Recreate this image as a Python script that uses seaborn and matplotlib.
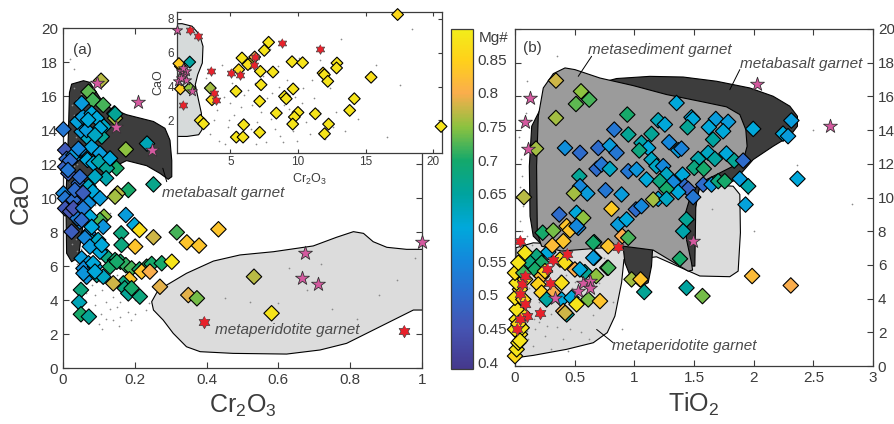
import numpy as np
import matplotlib
matplotlib.use('Agg')
import matplotlib.pyplot as plt
from matplotlib.colors import LinearSegmentedColormap, Normalize
from matplotlib.patches import Polygon
from matplotlib.ticker import FormatStrFormatter
import seaborn as sns

# ---------------- data ----------------
# panel (a): Cr2O3 vs CaO, diamonds (Cr2O3, CaO, Mg#)
a_diamonds = [
    (0.106, 16.9, 0.77), (0.071, 16.25, 0.73), (0.083, 15.76, 0.72), (0.112, 15.47, 0.72),
    (0.143, 14.98, 0.69), (0.145, 14.7, 0.76), (0.175, 12.86, 0.75), (0.234, 13.2, 0.63),
    (0.252, 10.8, 0.67), (0.149, 11.75, 0.70), (0.182, 10.47, 0.70), (0.152, 10.27, 0.77),
    (0.145, 10.08, 0.76), (0.175, 9.0, 0.58), (0.199, 8.41, 0.60), (0.213, 8.12, 0.87),
    (0.252, 7.69, 0.78), (0.317, 7.98, 0.72), (0.345, 7.39, 0.83), (0.379, 7.2, 0.83),
    (0.433, 8.16, 0.83), (0.201, 7.14, 0.83), (0.162, 7.92, 0.68), (0.163, 7.24, 0.68),
    (0.114, 8.9, 0.75), (0.103, 8.7, 0.72), (0.112, 8.31, 0.57), (0.122, 6.55, 0.68),
    (0.145, 6.35, 0.69), (0.16, 6.25, 0.70), (0.175, 6.05, 0.71), (0.191, 5.86, 0.72),
    (0.213, 5.8, 0.70), (0.233, 5.96, 0.71), (0.247, 6.12, 0.70), (0.275, 6.16, 0.70),
    (0.303, 6.25, 0.88), (0.219, 5.67, 0.83), (0.242, 5.67, 0.80), (0.185, 5.22, 0.83),
    (0.168, 4.98, 0.68), (0.14, 4.98, 0.78), (0.172, 4.69, 0.68), (0.182, 4.39, 0.66),
    (0.191, 4.69, 0.70), (0.214, 4.2, 0.68), (0.27, 4.78, 0.79), (0.349, 4.29, 0.79),
    (0.373, 4.1, 0.74), (0.532, 5.37, 0.77), (0.581, 3.22, 0.88), (0.05, 4.59, 0.68),
    (0.045, 3.86, 0.63), (0.05, 3.16, 0.70), (0.072, 3.02, 0.66),
    (0.001, 14.04, 0.52), (0.006, 12.82, 0.46), (0.01, 12.3, 0.50), (0.006, 11.84, 0.48),
    (0.015, 11.45, 0.47), (0.001, 10.27, 0.55), (0.006, 9.98, 0.52), (0.006, 9.39, 0.46),
    (0.02, 9.2, 0.45), (0.024, 8.02, 0.47), (0.047, 9.98, 0.45), (0.052, 10.47, 0.48),
    (0.043, 10.86, 0.50), (0.033, 12.43, 0.57), (0.047, 12.82, 0.57), (0.052, 13.9, 0.58),
    (0.04, 14.49, 0.59), (0.055, 14.78, 0.58), (0.052, 15.57, 0.58), (0.08, 14.98, 0.60),
    (0.094, 14.69, 0.60), (0.114, 14.2, 0.62), (0.108, 13.61, 0.66), (0.071, 13.5, 0.62),
    (0.08, 13.0, 0.59), (0.103, 12.63, 0.58), (0.068, 12.24, 0.60), (0.085, 12.04, 0.60),
    (0.1, 12.14, 0.64), (0.122, 11.75, 0.66), (0.131, 12.33, 0.60), (0.12, 11.16, 0.64),
    (0.089, 11.25, 0.62), (0.071, 10.67, 0.62), (0.083, 10.37, 0.60), (0.103, 9.98, 0.58),
    (0.071, 9.69, 0.56), (0.057, 9.2, 0.85), (0.047, 8.61, 0.55), (0.075, 8.9, 0.60),
    (0.071, 7.92, 0.55), (0.08, 7.43, 0.62), (0.098, 7.53, 0.62), (0.103, 6.84, 0.60),
    (0.052, 6.45, 0.58), (0.071, 6.16, 0.58), (0.057, 5.86, 0.56), (0.089, 5.96, 0.59),
    (0.066, 5.37, 0.57), (0.094, 5.47, 0.66), (0.112, 5.37, 0.62), (0.029, 12.53, 0.58),
    (0.029, 9.88, 0.50), (0.04, 8.8, 0.53), (0.145, 14.94, 0.66), (0.103, 14.1, 0.60),
    (0.066, 14.0, 0.58), (0.07, 14.6, 0.60), (0.089, 13.7, 0.62), (0.043, 12.9, 0.55),
    (0.0195, 12.2, 0.50), (0.014, 11.65, 0.52), (0.047, 11.25, 0.50), (0.033, 10.47, 0.50),
    (0.056, 10.3, 0.47), (0.029, 9.4, 0.45), (0.056, 9.4, 0.53), (0.052, 8.7, 0.50),
    (0.061, 7.65, 0.55), (0.08, 8.3, 0.60), (0.075, 7.14, 0.58), (0.108, 7.24, 0.60),
    (0.084, 6.16, 0.60), (0.057, 5.57, 0.57), (0.089, 5.67, 0.60), (0.131, 5.96, 0.70),
    (0.15, 6.25, 0.70),
]
a_red_stars = [(0.393, 2.73), (0.951, 2.18)]
a_pink_stars = [(0.21, 15.67), (0.149, 14.2), (0.247, 12.82), (0.094, 16.75),
                (0.674, 6.75), (0.665, 5.27), (0.711, 4.92), (0.999, 7.43)]
a_dots = [
    (0.03, 16.5), (0.05, 15.2), (0.07, 14.1), (0.04, 13.3), (0.06, 12.6), (0.08, 11.8),
    (0.02, 10.9), (0.05, 10.2), (0.09, 9.6), (0.03, 8.8), (0.06, 8.1), (0.1, 7.4),
    (0.04, 6.9), (0.07, 6.2), (0.12, 5.8), (0.05, 5.3), (0.08, 4.9), (0.11, 4.6),
    (0.14, 4.2), (0.06, 4.0), (0.09, 3.7), (0.13, 3.5), (0.16, 3.9), (0.18, 3.3),
    (0.08, 3.1), (0.12, 2.9), (0.15, 3.6), (0.2, 3.2), (0.22, 4.4), (0.1, 2.6),
    (0.14, 2.8), (0.17, 5.1), (0.24, 3.8), (0.07, 7.7), (0.11, 6.6), (0.19, 4.7),
    (0.05, 9.3), (0.09, 12.9), (0.13, 9.1), (0.04, 15.8), (0.45, 4.1), (0.52, 3.9),
    (0.6, 3.8), (0.68, 4.6), (0.75, 3.5), (0.82, 2.9), (0.88, 4.3), (0.55, 2.4),
    (0.63, 5.9), (0.72, 6.1), (0.93, 5.2), (0.98, 6.5), (0.03, 17.6), (0.02, 18.2),
    (0.035, 11.4), (0.025, 7.3), (0.065, 4.4), (0.105, 3.2), (0.155, 2.5), (0.09, 8.6),
    (0.03, 14.9), (0.035, 13.6), (0.04, 12.0), (0.045, 11.1), (0.035, 10.0), (0.04, 9.0),
    (0.045, 8.3), (0.035, 7.6), (0.05, 7.0), (0.06, 6.7), (0.04, 6.1), (0.06, 5.0),
    (0.09, 4.3), (0.12, 3.9), (0.16, 3.0), (0.19, 2.8), (0.11, 2.3), (0.07, 2.8),
    (0.13, 4.8), (0.15, 5.5), (0.2, 4.0), (0.23, 3.4), (0.17, 4.4), (0.1, 5.1),
    (0.025, 15.5), (0.05, 16.1), (0.02, 13.0), (0.055, 12.2), (0.03, 11.9), (0.065, 10.9),
]

# inset: Cr2O3 vs CaO for high-Cr2O3 garnets
in_diamonds = [
    (17.36, 8.26, 0.86), (20.57, 1.64, 0.88), (7.83, 6.62, 0.88), (7.51, 6.14, 0.88),
    (5.86, 5.69, 0.88), (6.48, 5.39, 0.86), (6.3, 5.3, 0.87), (6.8, 5.75, 0.80),
    (5.62, 5.0, 0.86), (7.22, 4.9, 0.88), (8.15, 4.86, 0.88), (9.56, 5.47, 0.88),
    (10.34, 5.41, 0.88), (11.85, 4.80, 0.86), (11.95, 4.7, 0.88), (12.2, 4.31, 0.88),
    (12.88, 5.39, 0.88), (12.85, 5.1, 0.88), (15.4, 4.55, 0.87), (5.42, 3.72, 0.88),
    (7.27, 4.11, 0.88), (9.64, 3.86, 0.88), (9.0, 3.42, 0.88), (9.13, 3.28, 0.88),
    (7.17, 3.13, 0.88), (14.16, 3.28, 0.88), (13.82, 2.59, 0.88), (8.4, 2.43, 0.88),
    (10.0, 2.47, 0.88), (9.73, 2.2, 0.88), (11.28, 2.39, 0.88), (9.61, 1.78, 0.88),
    (12.26, 1.78, 0.88), (5.99, 1.74, 0.88), (7.17, 1.29, 0.88), (5.44, 1.01, 0.88),
    (5.94, 1.01, 0.88), (11.96, 1.21, 0.88), (2.78, 2.0, 0.88), (3.02, 1.8, 0.88),
    (3.52, 3.91, 0.76), (3.64, 3.22, 0.86), (1.31, 5.2, 0.86), (1.2, 5.36, 0.84),
    (1.31, 3.86, 0.84), (2.0, 5.45, 0.65), (2.0, 3.91, 0.75),
]
in_red_stars = [(2.0, 7.37), (2.59, 7.01), (8.82, 6.58), (11.65, 6.22), (6.8, 5.75),
                (6.72, 5.30), (3.57, 4.90), (5.05, 4.80), (5.74, 4.70), (3.77, 3.62),
                (3.97, 3.22), (1.50, 2.91)]
in_pink_stars = [(1.06, 7.37), (1.33, 4.9), (1.58, 4.70), (1.70, 4.41), (1.1, 4.31),
                 (2.17, 3.72), (1.33, 4.51), (1.75, 4.9), (1.5, 5.1)]
in_dots = [
    (3.5, 1.2), (4.2, 0.8), (4.8, 1.6), (5.3, 2.3), (6.1, 0.9), (6.6, 2.9), (7.0, 1.9),
    (7.6, 0.7), (8.1, 3.6), (8.7, 1.1), (9.3, 2.7), (9.9, 0.8), (10.6, 1.9), (11.2, 3.3),
    (12.0, 0.9), (12.8, 2.5), (13.5, 1.4), (4.5, 3.4), (5.1, 4.2), (6.3, 3.8), (7.4, 4.6),
    (8.5, 5.2), (9.2, 4.4), (10.4, 3.9), (11.6, 5.6), (4.0, 2.6), (5.8, 2.8), (6.9, 0.6),
    (8.0, 2.1), (9.6, 1.4), (10.9, 1.2), (12.4, 3.9), (14.4, 2.1), (15.8, 5.3), (16.6, 1.0),
    (17.5, 4.1), (18.4, 7.4), (3.2, 4.5), (4.4, 5.3), (7.9, 6.2), (13.2, 6.8), (5.5, 1.3),
    (6.5, 1.5), (7.3, 2.5), (8.9, 0.7), (3.8, 2.0), (10.1, 5.7), (11.5, 2.6),
    (4.6, 0.6), (5.0, 3.0), (6.0, 3.5), (6.8, 4.2), (7.7, 3.3), (8.3, 1.5), (9.0, 2.9),
    (10.3, 3.0), (11.0, 4.4), (12.6, 1.6), (3.6, 3.0), (4.9, 2.0), (8.6, 4.0), (9.8, 3.4),
]

# panel (b): TiO2 vs CaO, diamonds (TiO2, CaO, Mg#)
b_diamonds = [
    (0.343, 16.94, 0.78), (0.553, 16.3, 0.75), (0.622, 15.81, 0.72), (0.511, 15.55, 0.73),
    (0.343, 14.72, 0.76), (0.176, 12.9, 0.76), (0.075, 10.02, 0.77),
    (1.354, 15.61, 0.60), (0.941, 14.92, 0.70), (1.479, 14.76, 0.60), (1.49, 14.66, 0.60),
    (1.2, 14.58, 0.63), (1.256, 14.33, 0.60), (1.446, 14.17, 0.66), (1.683, 14.66, 0.58),
    (1.786, 14.49, 0.58), (1.625, 14.17, 0.60), (1.744, 13.93, 0.60), (1.996, 14.07, 0.60),
    (2.316, 14.57, 0.58), (2.246, 13.79, 0.60), (2.288, 13.64, 0.58), (0.832, 14.03, 0.52),
    (0.95, 13.74, 0.66), (1.144, 13.77, 0.66), (1.66, 13.44, 0.65), (0.419, 12.94, 0.56),
    (0.698, 12.94, 0.50), (0.795, 13.08, 0.58), (0.545, 12.65, 0.50), (0.851, 12.65, 0.52),
    (1.06, 13.24, 0.64), (1.116, 12.94, 0.60), (1.041, 12.79, 0.68), (1.292, 13.28, 0.55),
    (1.368, 12.81, 0.58), (1.395, 12.9, 0.54), (1.535, 12.29, 0.64), (1.619, 12.65, 0.62),
    (1.675, 12.29, 0.65), (1.772, 12.61, 0.60), (1.837, 12.19, 0.66), (1.912, 12.19, 0.50),
    (0.684, 11.7, 0.50), (0.726, 11.96, 0.52), (0.795, 11.7, 0.62), (0.949, 11.56, 0.52),
    (1.019, 11.66, 0.57), (1.102, 11.07, 0.60), (1.144, 12.25, 0.62), (1.186, 11.86, 0.62),
    (1.242, 11.86, 0.55), (1.27, 11.36, 0.62), (1.214, 10.97, 0.68), (1.326, 10.91, 0.55),
    (1.404, 11.36, 0.60), (1.423, 10.67, 0.50), (1.451, 10.51, 0.48), (1.493, 10.02, 0.52),
    (1.368, 10.32, 0.60), (1.27, 10.51, 0.70), (1.2, 9.92, 0.60), (1.158, 9.88, 0.76),
    (1.27, 9.92, 0.62), (1.577, 10.77, 0.50), (1.647, 10.77, 0.57), (1.703, 10.97, 0.68),
    (1.758, 10.97, 0.70), (1.502, 11.76, 0.68), (1.582, 11.7, 0.70), (1.884, 11.11, 0.58),
    (1.954, 10.67, 0.64), (1.932, 9.58, 0.59), (2.367, 11.11, 0.60), (0.539, 11.27, 0.66),
    (0.545, 10.67, 0.55), (0.606, 10.24, 0.58), (0.494, 10.24, 0.76), (0.759, 10.43, 0.52),
    (0.893, 10.18, 0.58), (1.013, 9.29, 0.50), (1.06, 9.49, 0.55), (0.371, 8.99, 0.50),
    (0.516, 9.09, 0.60), (0.572, 8.79, 0.75), (0.53, 8.2, 0.55), (0.809, 9.33, 0.84),
    (0.865, 8.4, 0.58), (0.935, 8.7, 0.60), (1.437, 8.7, 0.66), (1.409, 8.0, 0.64),
    (0.899, 7.71, 0.80), (0.949, 7.61, 0.72), (0.232, 7.91, 0.70), (0.321, 8.04, 0.74),
    (0.433, 8.3, 0.83), (0.46, 8.06, 0.83), (0.405, 7.41, 0.83), (0.279, 6.76, 0.60),
    (0.313, 7.15, 0.82), (0.664, 7.35, 0.70), (0.781, 7.11, 0.83), (0.664, 6.42, 0.60),
    (0.773, 5.83, 0.72), (1.382, 6.36, 0.70), (0.977, 5.14, 0.76), (1.052, 5.14, 0.83),
    (1.083, 4.39, 0.66), (1.437, 4.64, 0.65), (1.571, 4.15, 0.74), (1.987, 5.34, 0.82),
    (2.311, 4.78, 0.80), (0.516, 8.3, 0.55),
    (0.181, 6.52, 0.68), (0.126, 6.13, 0.68), (0.223, 6.13, 0.70), (0.167, 5.73, 0.70),
    (0.377, 6.32, 0.87), (0.419, 6.13, 0.87), (0.502, 5.73, 0.80), (0.586, 5.57, 0.66),
    (0.544, 5.73, 0.60), (0.656, 6.42, 0.58), (0.782, 5.83, 0.72), (0.68, 5.34, 0.75),
    (0.223, 5.34, 0.82), (0.195, 4.84, 0.85), (0.223, 4.35, 0.85), (0.391, 4.94, 0.87),
    (0.321, 4.35, 0.80), (0.265, 3.95, 0.65), (0.391, 3.95, 0.60), (0.474, 4.05, 0.60),
    (0.516, 3.66, 0.88), (0.614, 3.95, 0.74), (0.712, 3.85, 0.83), (0.405, 3.26, 0.80),
    (0.433, 3.06, 0.65), (0.42, 3.15, 0.78), (0.251, 5.63, 0.86), (0.656, 7.31, 0.70),
    (0.0, 0.59, 0.86), (0.014, 0.99, 0.88), (0.028, 1.38, 0.88), (0.042, 1.88, 0.87),
    (0.0, 2.17, 0.88), (0.056, 2.27, 0.88), (0.014, 2.77, 0.88), (0.07, 3.06, 0.87),
    (0.014, 3.36, 0.88), (0.0, 4.05, 0.88), (0.07, 3.95, 0.85), (0.042, 4.55, 0.86),
    (0.014, 4.94, 0.88), (0.084, 5.14, 0.86), (0.0, 5.53, 0.87), (0.07, 5.53, 0.72),
    (0.028, 6.13, 0.88), (0.084, 6.72, 0.88), (0.042, 1.5, 0.88), (0.028, 2.5, 0.86),
]
b_red_stars = [(0.042, 7.41), (0.056, 4.84), (0.084, 5.34), (0.042, 4.25), (0.084, 3.66),
               (0.098, 2.96), (0.042, 2.77), (0.014, 2.17), (0.209, 3.16), (0.265, 5.77),
               (0.321, 6.28), (0.293, 4.94), (0.433, 6.62), (0.865, 7.07)]
b_pink_stars = [(0.572, 4.94), (0.628, 5.04), (0.628, 4.64), (0.53, 4.45), (0.335, 4.05),
                (1.493, 7.41), (0.126, 15.91), (0.084, 14.47), (0.112, 12.9),
                (2.029, 16.76), (2.637, 14.23)]
b_dots = [
    (0.02, 1.0), (0.05, 1.5), (0.1, 2.1), (0.15, 1.2), (0.2, 2.6), (0.25, 1.8), (0.3, 3.1),
    (0.35, 2.3), (0.4, 1.6), (0.45, 2.8), (0.5, 3.4), (0.55, 2.0), (0.6, 4.3), (0.65, 3.0),
    (0.12, 3.5), (0.18, 4.2), (0.22, 5.0), (0.28, 5.6), (0.33, 4.8), (0.38, 5.4), (0.48, 4.6),
    (0.52, 6.0), (0.58, 5.2), (0.7, 4.9), (0.75, 6.4), (0.82, 3.8), (0.08, 6.5), (0.14, 7.2),
    (0.26, 6.8), (0.04, 8.6), (0.06, 11.3), (0.1, 16.9), (0.03, 13.6), (0.07, 9.5),
    (0.3, 1.0), (0.44, 0.9), (0.62, 1.6), (0.9, 2.2), (1.4, 8.6), (1.65, 9.3), (2.5, 14.0),
    (2.36, 11.9), (2.0, 8.0), (2.82, 9.6), (1.95, 10.2), (0.35, 18.4), (1.0, 19.0), (0.09, 15.0),
    (0.2, 3.8), (0.42, 3.6), (0.36, 6.2), (0.16, 2.8), (0.24, 4.4), (0.54, 5.6),
    (0.11, 1.6), (0.17, 2.2), (0.23, 3.0), (0.27, 2.4), (0.32, 4.0), (0.37, 3.3), (0.46, 2.2),
    (0.5, 5.0), (0.56, 4.2), (0.62, 5.5), (0.66, 4.6), (0.12, 4.6), (0.19, 6.0), (0.3, 6.3),
    (0.43, 5.4), (0.08, 2.6), (0.06, 8.0), (0.1, 7.7), (0.04, 10.6), (0.05, 12.3),
]

# outlines of the garnet fields (x, CaO)
a_metabasalt = [
    (0.024, 16.7), (0.057, 16.9), (0.075, 16.8), (0.103, 15.9), (0.131, 15.3), (0.177, 14.9),
    (0.252, 14.5), (0.284, 14.1), (0.298, 13.4), (0.303, 12.2), (0.303, 11.25), (0.293, 11.1),
    (0.27, 11.45), (0.233, 11.9), (0.177, 12.2), (0.12, 11.6), (0.075, 10.7), (0.052, 7.9),
    (0.043, 6.5), (0.024, 6.25), (0.01, 6.75), (0.008, 9.9), (0.015, 13.8), (0.018, 16.2),
]
a_metaperidotite = [
    (0.247, 3.9), (0.261, 4.43), (0.289, 4.88), (0.344, 5.57), (0.419, 6.29), (0.493, 6.65),
    (0.586, 6.84), (0.697, 7.18), (0.762, 7.69), (0.809, 8.02), (0.837, 7.92), (0.864, 7.43),
    (0.902, 7.1), (0.957, 6.98), (1.013, 6.98), (1.013, 3.41), (0.976, 3.41), (0.92, 2.82),
    (0.846, 2.04), (0.79, 1.45), (0.716, 1.06), (0.623, 0.82), (0.474, 0.86), (0.382, 0.96),
    (0.344, 1.25), (0.307, 2.04), (0.279, 2.82), (0.252, 3.41),
]
in_metaperidotite = [
    (0.5, 7.7), (1.43, 7.72), (2.17, 7.57), (2.73, 7.07), (2.98, 6.38), (2.93, 5.39),
    (2.59, 4.7), (2.41, 4.11), (2.59, 3.42), (2.86, 2.43), (2.91, 1.45), (2.66, 1.15),
    (1.8, 1.05), (0.5, 1.05),
]
b_metaperidotite = [
    (0.008, 0.49), (0.008, 7.02), (0.153, 7.31), (0.433, 7.21), (0.907, 7.15), (1.186, 7.02),
    (1.437, 6.82), (1.515, 9.49), (1.543, 10.51), (1.661, 10.75), (1.828, 10.67),
    (1.884, 10.18), (1.889, 7.91), (1.87, 5.63), (1.8, 5.3), (1.549, 5.34), (1.186, 6.48),
    (0.991, 6.32), (0.913, 6.32), (0.893, 4.94), (0.837, 2.96), (0.773, 1.98), (0.656, 1.38),
    (0.433, 0.99), (0.153, 0.63),
]
b_metabasalt = [
    (1.047, 4.7), (1.116, 4.94), (1.144, 5.93), (1.153, 6.96), (1.409, 6.96), (1.46, 5.93),
    (1.507, 5.93), (1.515, 9.49), (1.543, 10.51), (1.661, 10.87), (1.828, 10.97),
    (1.898, 11.46), (1.996, 12.25), (2.163, 13.04), (2.303, 13.64), (2.367, 14.23),
    (2.367, 14.82), (2.303, 15.42), (2.163, 16.01), (1.968, 16.5), (1.689, 16.9),
    (1.409, 17.15), (1.13, 17.19), (0.851, 17.06), (0.712, 16.8), (0.433, 16.0), (0.209, 15.2),
    (0.14, 14.23), (0.12, 11.86), (0.126, 8.89), (0.153, 7.71), (0.237, 7.11), (0.907, 7.02),
    (0.921, 6.13), (0.977, 5.14),
]
b_metasediment = [
    (0.187, 7.91), (0.181, 11.86), (0.195, 14.82), (0.237, 16.5), (0.321, 17.35),
    (0.419, 17.69), (0.502, 17.59), (0.712, 17.09), (0.991, 16.64), (1.27, 16.11),
    (1.549, 15.71), (1.772, 15.38), (1.884, 14.92), (1.934, 14.03), (1.945, 13.04),
    (1.926, 12.55), (1.828, 11.86), (1.689, 11.36), (1.549, 10.87), (1.479, 10.28),
    (1.429, 9.09), (1.437, 7.51), (1.479, 6.13), (1.488, 5.69), (1.451, 5.63), (1.158, 6.88),
    (0.907, 7.11), (0.391, 6.82), (0.223, 7.11),
]

mg_ticks = [0.4, 0.45, 0.5, 0.55, 0.6, 0.65, 0.7, 0.75, 0.8, 0.85]

# ---------------- style ----------------
sns.set_style('ticks')
plt.rcParams['font.family'] = ['Liberation Sans', 'DejaVu Sans']
plt.rcParams['mathtext.default'] = 'regular'

# parula-like map, as printed in the figure
parula = LinearSegmentedColormap.from_list('parula', [
    (0.000, (0.27, 0.22, 0.55)), (0.119, (0.27, 0.33, 0.70)), (0.218, (0.18, 0.42, 0.80)),
    (0.317, (0.08, 0.53, 0.86)), (0.416, (0.00, 0.66, 0.86)), (0.515, (0.00, 0.64, 0.62)),
    (0.614, (0.08, 0.66, 0.42)), (0.713, (0.55, 0.76, 0.25)), (0.812, (0.98, 0.68, 0.30)),
    (0.911, (1.00, 0.82, 0.10)), (1.000, (0.95, 0.93, 0.10))])
norm = Normalize(0.39, 0.895)

ang = np.deg2rad(np.arange(12) * 30 + 90)
rad = np.where(np.arange(12) % 2 == 0, 1.0, 0.58)
hexagram = list(zip(rad * np.cos(ang), rad * np.sin(ang)))

ink = '#3c3c3c'
note = '#4a4a4a'


def style_axes(ax, fs=11):
    ax.tick_params(direction='in', top=True, right=True, length=4, width=0.8,
                   labelsize=fs, colors=ink)
    for s in ax.spines.values():
        s.set_color(ink)
        s.set_linewidth(0.9)


def field(ax, pts, color, z=1):
    ax.add_patch(Polygon(pts, closed=True, facecolor=color, edgecolor='black',
                         lw=0.8, joinstyle='round', zorder=z))


def points(ax, dia, red, pink, dots, s_dia=62, s_star=110, s_hex=80):
    dx, dy = zip(*dots)
    ax.scatter(dx, dy, s=1.5, c='#8a8a8a', lw=0, zorder=2)
    x, y, mg = zip(*dia)
    sns.scatterplot(x=list(x), y=list(y), hue=list(mg), palette=parula, hue_norm=norm,
                    marker='D', s=s_dia, edgecolor='black', linewidth=0.8,
                    legend=False, ax=ax, zorder=3, clip_on=False)
    rx, ry = zip(*red)
    ax.scatter(rx, ry, marker=hexagram, s=s_hex, c='#e8212b', edgecolors='#444',
               lw=0.5, zorder=4, clip_on=False)
    px, py = zip(*pink)
    ax.scatter(px, py, marker='*', s=s_star, c='#d4599f', edgecolors='#333',
               lw=0.6, zorder=4, clip_on=False)


fig = plt.figure(figsize=(8.95, 4.24), dpi=100)

# ---- panel (a)
ax1 = fig.add_axes([63 / 895, 56 / 424, 359 / 895, 340 / 424])
field(ax1, a_metabasalt, '#3d3d3d')
field(ax1, a_metaperidotite, '#dcdcdc')
points(ax1, a_diamonds, a_red_stars, a_pink_stars, a_dots)
ax1.set_xlim(0, 1)
ax1.set_ylim(0, 20)
ax1.set_xticks([0, 0.2, 0.4, 0.6, 0.8, 1])
ax1.set_yticks(range(0, 21, 2))
ax1.xaxis.set_major_formatter(FormatStrFormatter('%g'))
ax1.set_xlabel(r'Cr$_2$O$_3$', fontsize=18, color=ink, labelpad=4)
ax1.set_ylabel('CaO', fontsize=18, color=ink, labelpad=6)
style_axes(ax1)
ax1.text(0.029, 18.7, '(a)', fontsize=11, color=ink, va='center')
ax1.text(0.277, 10.27, 'metabasalt garnet', fontsize=11, style='italic', color=note,
         va='center', zorder=6)
ax1.plot([0.289, 0.278], [10.96, 11.75], color='black', lw=0.7, zorder=6)
ax1.text(0.423, 2.24, 'metaperidotite garnet', fontsize=11, style='italic', color=note,
         va='center', zorder=6)

# ---- inset
axi = fig.add_axes([177 / 895, 271 / 424, 265 / 895, 141 / 424])
axi.set_facecolor('white')
field(axi, in_metaperidotite, '#d6dada')
points(axi, in_diamonds, in_red_stars, in_pink_stars, in_dots, s_dia=36, s_star=60, s_hex=48)
axi.set_xlim(1.06, 20.64)
axi.set_ylim(0.07, 8.41)
axi.set_xticks([5, 10, 15, 20])
axi.set_yticks([2, 4, 6, 8])
axi.set_xlabel(r'Cr$_2$O$_3$', fontsize=9, color=ink, labelpad=3)
axi.set_ylabel('CaO', fontsize=9, color=ink, labelpad=2)
style_axes(axi, fs=8.5)
axi.tick_params(length=3, pad=2)

# ---- colorbar
cax = fig.add_axes([451 / 895, 55 / 424, 22 / 895, 340 / 424])
sm = plt.cm.ScalarMappable(norm=norm, cmap=parula)
cb = fig.colorbar(sm, cax=cax, ticks=mg_ticks, format='%g')
cb.outline.set_edgecolor(ink)
cb.outline.set_linewidth(0.9)
cax.tick_params(direction='in', length=3, labelsize=11, colors=ink)
cax.text(1.25, 0.995, 'Mg#', transform=cax.transAxes, fontsize=11, color=ink,
         va='top', ha='left')

# ---- panel (b)
ax2 = fig.add_axes([515 / 895, 58 / 424, 358 / 895, 337 / 424])
field(ax2, b_metaperidotite, '#dcdcdc', z=1)
field(ax2, b_metabasalt, '#3d3d3d', z=1.1)
field(ax2, b_metasediment, '#9b9b9b', z=1.2)
points(ax2, b_diamonds, b_red_stars, b_pink_stars, b_dots)
ax2.set_xlim(0, 3)
ax2.set_ylim(0, 20)
ax2.set_xticks([0, 0.5, 1, 1.5, 2, 2.5, 3])
ax2.set_yticks(range(0, 21, 2))
ax2.xaxis.set_major_formatter(FormatStrFormatter('%g'))
ax2.set_xlabel(r'TiO$_2$', fontsize=18, color=ink, labelpad=4)
style_axes(ax2)
ax2.tick_params(labelleft=False, labelright=True)
ax2.text(0.07, 18.9, '(b)', fontsize=11, color=ink, va='center')
ax2.text(0.614, 18.77, 'metasediment garnet', fontsize=11, style='italic', color=note,
         va='center', zorder=6)
ax2.plot([0.642, 0.53], [18.38, 17.19], color='black', lw=0.7, zorder=6)
ax2.text(1.884, 17.9, 'metabasalt garnet', fontsize=11, style='italic', color=note,
         va='center', zorder=6)
ax2.plot([1.884, 1.80], [17.59, 16.4], color='black', lw=0.7, zorder=6)
ax2.text(0.81, 1.19, 'metaperidotite garnet', fontsize=11, style='italic', color=note,
         va='center', zorder=6)
ax2.plot([0.823, 0.684], [1.38, 2.17], color='black', lw=0.7, zorder=6)

fig.savefig('out.png', dpi=100)
